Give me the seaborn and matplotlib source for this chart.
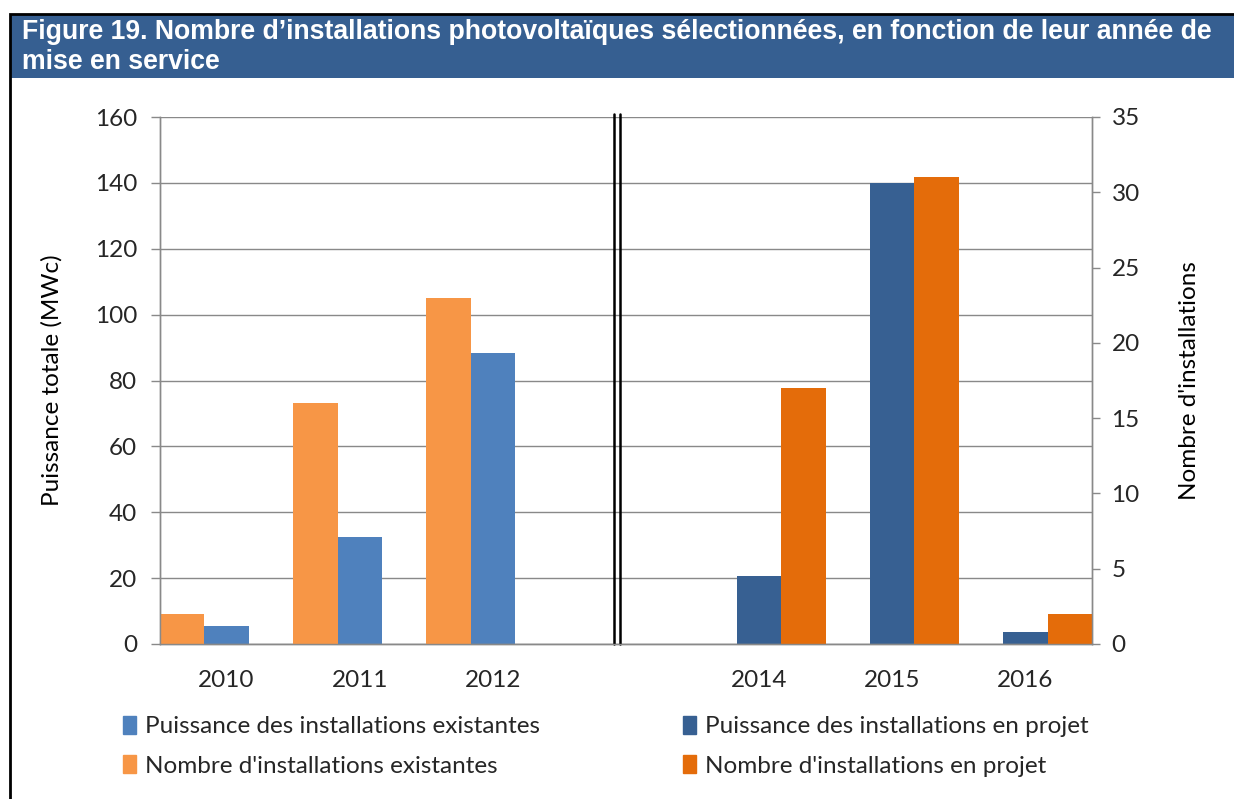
import pandas as pd
import matplotlib.pyplot as plt
import seaborn as sns
from matplotlib.patches import Patch, Rectangle

# --- DATA ---
annees = ['2010', '2011', '2012', '', '2014', '2015', '2016']
annees_existantes = ['2010', '2011', '2012']
annees_projet = ['2014', '2015', '2016']
puissance_existantes = [5.5, 32.6, 88.4]
puissance_projet = [20.7, 140.1, 3.5]
nombre_existantes = [2, 16, 23]
nombre_projet = [17, 31, 2]

lab_p_exist = 'Puissance des installations existantes'
lab_p_projet = 'Puissance des installations en projet'
lab_n_exist = "Nombre d'installations existantes"
lab_n_projet = "Nombre d'installations en projet"

couleurs = {
    lab_p_exist: '#4F81BD',
    lab_p_projet: '#376092',
    lab_n_exist: '#F79646',
    lab_n_projet: '#E46C0A',
    '_vide': 'white',
}

df_puissance = pd.concat([
    pd.DataFrame({'annee': annees_existantes, 'valeur': puissance_existantes, 'serie': lab_p_exist}),
    pd.DataFrame({'annee': annees_projet, 'valeur': puissance_projet, 'serie': lab_p_projet}),
])
df_nombre = pd.concat([
    pd.DataFrame({'annee': annees_existantes, 'valeur': nombre_existantes, 'serie': lab_n_exist}),
    pd.DataFrame({'annee': annees_projet, 'valeur': nombre_projet, 'serie': lab_n_projet}),
])

sns.set_style('white')
plt.rcParams['font.family'] = ['Lato', 'DejaVu Sans']
gris = '#898989'
texte = '#262626'
fs = 17.5

fig = plt.figure(figsize=(12.34, 7.99), dpi=100)
ax = fig.add_axes([160 / 1234, 155 / 799, 932 / 1234, 527 / 799])

# title banner + frame
fig.patches.append(Rectangle((10 / 1234, 721 / 799), 1 - 10 / 1234, 64 / 799,
                             transform=fig.transFigure, facecolor='#365F91', edgecolor='none'))
fig.patches.append(Rectangle((10 / 1234, -0.01), 1.0, 785 / 799 + 0.01,
                             transform=fig.transFigure, facecolor='none', edgecolor='black', lw=2))
fig.text(22 / 1234, 1 - 47 / 799,
         "Figure 19. Nombre d’installations photovoltaïques sélectionnées, en fonction de leur année de\nmise en service",
         family='Liberation Sans', weight='bold', color='white', fontsize=19.2, va='center', linespacing=1.2)

# --- power bars (left axis) ---
sns.barplot(data=df_puissance, x='annee', y='valeur', hue='serie', order=annees,
            hue_order=[lab_p_exist, lab_p_projet], palette=couleurs, dodge=False,
            width=1 / 3, saturation=1, linewidth=0, legend=False, ax=ax)

# --- count bars (right axis) ---
ax2 = ax.twinx()
sns.barplot(data=df_nombre, x='annee', y='valeur', hue='serie', order=annees,
            hue_order=[lab_n_exist, '_vide', lab_n_projet], palette=couleurs, dodge=True,
            width=1.0, saturation=1, linewidth=0, legend=False, ax=ax2)

ax.set_xlim(-0.5, len(annees) - 0.5)
ax.set_ylim(0, 160)
ax2.set_ylim(0, 35)
ax.set_yticks(range(0, 161, 20))
ax2.set_yticks(range(0, 36, 5))
ax.set_xticks(range(len(annees)))
ax.set_xticklabels(annees)
ax.set_xticks([i - 0.5 for i in range(len(annees) + 1)], minor=True)

ax.set_axisbelow(True)
ax.yaxis.grid(True, color=gris, lw=1)
ax.xaxis.grid(False)

ax.tick_params(axis='x', which='major', length=0, pad=19, labelsize=fs, labelcolor=texte)
ax.tick_params(axis='x', which='minor', length=6, width=1, color=gris, direction='out')
ax.tick_params(axis='y', length=6.5, width=1, color=gris, direction='out', pad=10,
               labelsize=fs, labelcolor=texte, left=True)
ax2.tick_params(axis='y', length=6, width=1, color=gris, direction='out', pad=8,
                labelsize=fs, labelcolor=texte, right=True)

ax.set_xlabel('')
ax.set_ylabel('Puissance totale (MWc)', fontsize=fs, color='black', labelpad=23)
ax2.set_xlabel('')
ax2.set_ylabel("Nombre d'installations", fontsize=fs, color='black', labelpad=28)

for a in (ax, ax2):
    a.spines['top'].set_visible(False)
    for s in ('left', 'right', 'bottom'):
        a.spines[s].set_color(gris)
        a.spines[s].set_linewidth(1)

# break marker between existing and planned years
for xb in (2.91, 2.955):
    ax.plot([xb, xb], [0, 1.006], transform=ax.get_xaxis_transform(), color='black',
            lw=1.8, clip_on=False, zorder=5)

# --- legend ---
handles = [Patch(color=couleurs[lab_p_exist]), Patch(color=couleurs[lab_n_exist]),
           Patch(color=couleurs[lab_p_projet]), Patch(color=couleurs[lab_n_projet])]
labels = [lab_p_exist, lab_n_exist, lab_p_projet, lab_n_projet]
fig.legend(handles, labels, ncol=2, loc='upper left', bbox_to_anchor=(113 / 1234, 1 - 706 / 799),
           frameon=False, fontsize=fs, handlelength=0.55, handleheight=0.75, handletextpad=0.35,
           columnspacing=5.9, labelspacing=0.75, labelcolor=texte, borderaxespad=0)

fig.savefig('out.png', dpi=100)
